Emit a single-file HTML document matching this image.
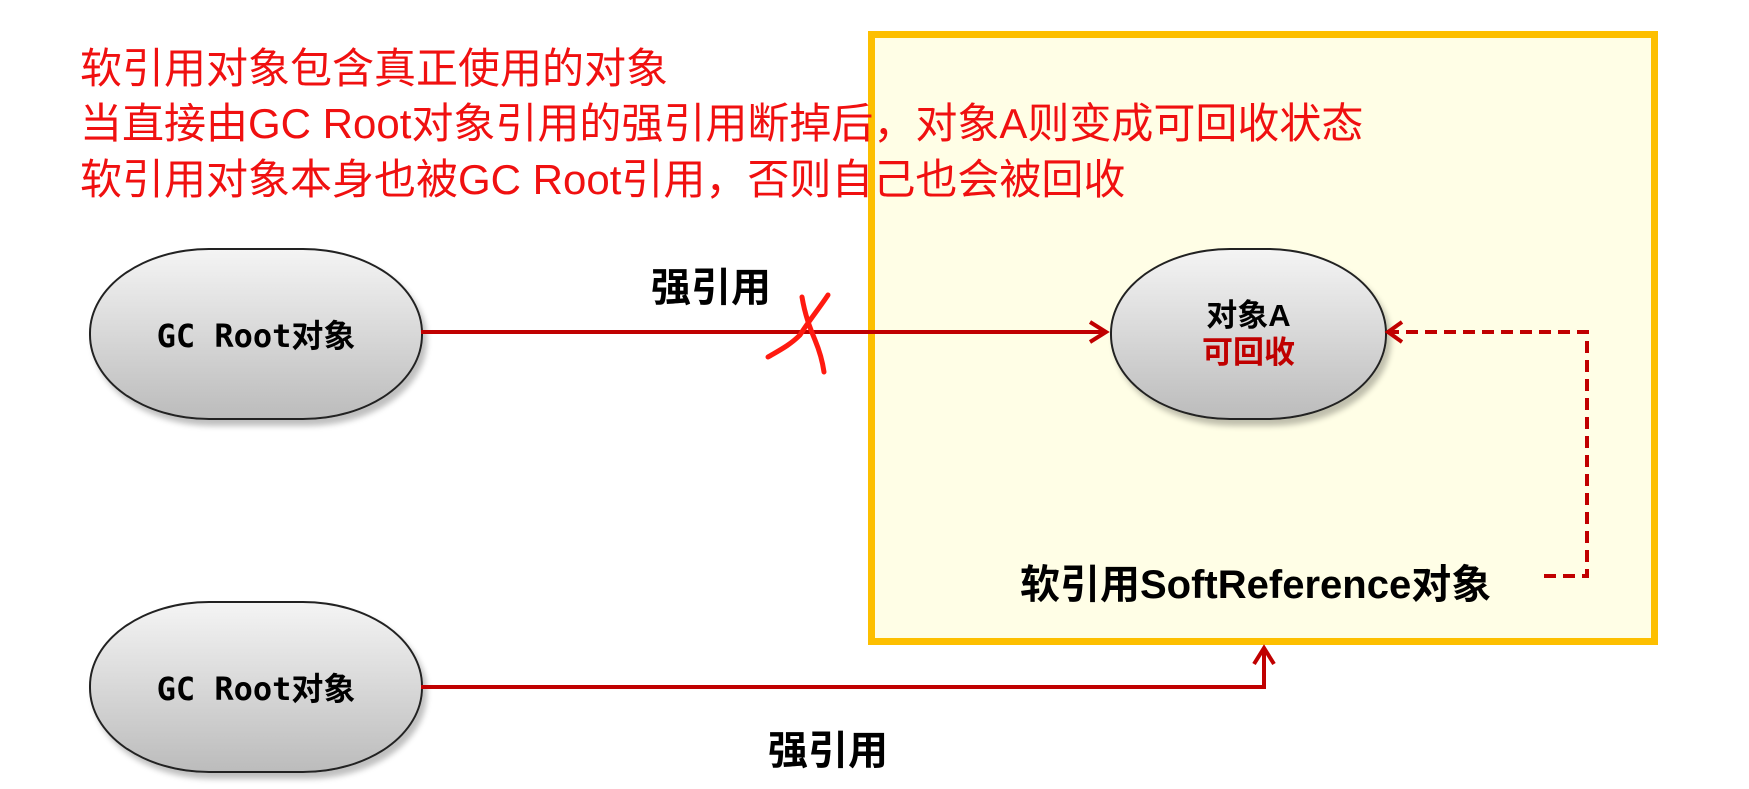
<!DOCTYPE html>
<html><head><meta charset="utf-8"><style>
body{margin:0;width:1749px;height:789px;background:#fff;overflow:hidden;position:relative;font-family:"Liberation Sans","Noto Sans CJK SC",sans-serif}
.t{position:absolute;left:80px;color:#f01010;font-size:42px;line-height:1;white-space:nowrap}
.box{position:absolute;left:868px;top:31px;width:790px;height:614px;box-sizing:border-box;border:7px solid #fdbf00;background:#fffee6}
.node{position:absolute;border:2px solid #222;background:linear-gradient(#f4f4f4,#bcbcbc);box-shadow:4px 6px 6px rgba(0,0,0,.25);display:flex;align-items:center;justify-content:center;flex-direction:column;font-weight:bold;font-size:32px;font-family:"DejaVu Sans Mono","Noto Sans CJK SC",monospace;border-radius:120px/85px}
.lb{position:absolute;font-weight:bold;font-size:40px;white-space:nowrap;font-family:"Liberation Sans","Noto Sans CJK SC",sans-serif;line-height:1}
</style></head><body>
<div class="box"></div>
<div class="t" style="top:48px">软引用对象包含真正使用的对象</div>
<div class="t" style="top:103px">当直接由GC Root对象引用的强引用断掉后，对象A则变成可回收状态</div>
<div class="t" style="top:159px">软引用对象本身也被GC Root引用，否则自己也会被回收</div>
<div class="node" style="left:89px;top:248px;width:330px;height:168px">GC Root对象</div>
<div class="node" style="left:89px;top:601px;width:330px;height:168px">GC Root对象</div>
<div class="node" style="left:1110px;top:248px;width:273px;height:168px;font-family:'Liberation Sans','Noto Sans CJK SC',sans-serif;font-size:31px;line-height:1.2"><span>对象A</span><span style="color:#c00000">可回收</span></div>
<svg width="1749" height="789" style="position:absolute;left:0;top:0">
<g stroke="#c00000" stroke-width="4" fill="none">
<line x1="421" y1="332" x2="1104" y2="332"/>
<polyline points="1090,322 1106,332 1090,342"/>
<polyline points="421,687 1264,687 1264,650"/>
<polyline points="1254,664 1264,648 1274,664"/>
<polyline points="1387,332 1587,332 1587,576 1542,576" stroke-dasharray="12,7"/>
<polyline points="1402,322 1388,332 1402,342"/>
</g>
<path d="M802,297 C805,315 810,328 815,340 C820,352 823,365 824,372 M828,295 C818,310 808,322 800,335 C790,345 780,350 768,357" stroke="#ff1a10" stroke-width="5" fill="none" stroke-linecap="round"/>
</svg>
<div class="lb" style="left:651px;top:268px">强引用</div>
<div class="lb" style="left:768px;top:731px">强引用</div>
<div class="lb" style="left:1020px;top:565px">软引用SoftReference对象</div>
</body></html>
